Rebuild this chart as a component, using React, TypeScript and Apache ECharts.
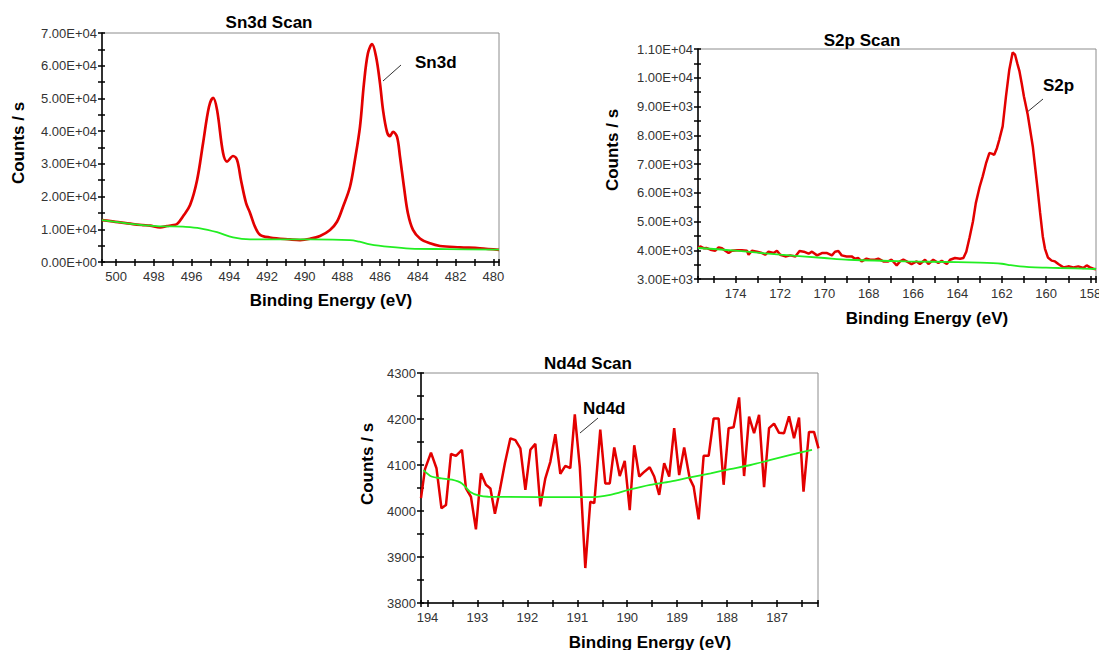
import { useEffect, useRef } from 'react';
import * as echarts from 'echarts';

const FONT = 'Arial, "Liberation Sans", Helvetica, sans-serif';
const RED = '#e30000';
const GREEN = '#22ee22';

// ---- Sn3d scan ----
const snEnergy = [500.75, 500.3, 499.8, 499.11, 498.6, 498.2, 497.67, 497.3, 497.04, 496.77, 496.46, 496.08, 495.71, 495.39, 495.08, 494.86, 494.65, 494.33, 494.12, 493.8, 493.59, 493.38, 493.11, 492.9, 492.64, 492.37, 491.84, 490.78, 490.25, 489.72, 489.19, 488.66, 488.29, 487.97, 487.6, 487.34, 487.07, 486.86, 486.65, 486.43, 486.22, 486.01, 485.85, 485.64, 485.48, 485.32, 485.11, 484.95, 484.74, 484.53, 484.26, 483.89, 483.36, 482.83, 481.77, 480.71, 479.7];
const snCounts = [12800, 12500, 12100, 11600, 11300, 11100, 10600, 11000, 11200, 11600, 13900, 17400, 25000, 36400, 47400, 50200, 46500, 33300, 30700, 32400, 31200, 25000, 18000, 15000, 10800, 8300, 7500, 6900, 6700, 7100, 7950, 9800, 12300, 16900, 23000, 31200, 41400, 54600, 63800, 66600, 62800, 54600, 46500, 39800, 38500, 39800, 38300, 32200, 23000, 14900, 9800, 7200, 5700, 4900, 4500, 4200, 3700];
const snBgEnergy = [500.75, 499.11, 498.2, 497.67, 497.04, 496.46, 495.55, 494.65, 493.8, 492.9, 489.72, 487.6, 487.1, 486.54, 485.48, 484.42, 482.5, 479.7];
const snBgCounts = [12800, 11600, 11100, 10900, 10900, 10800, 10300, 9100, 7500, 6900, 6900, 6700, 6200, 5400, 4600, 4100, 3950, 3800];

// ---- S2p scan ----
const s2Energy = [175.7, 175.6, 175.45, 175.3, 175.14, 174.92, 174.77, 174.62, 174.47, 174.32, 174.17, 173.94, 173.72, 173.49, 173.42, 173.27, 173.04, 172.82, 172.67, 172.52, 172.29, 172.14, 171.99, 171.76, 171.54, 171.31, 171.12, 170.93, 170.71, 170.56, 170.33, 170.11, 169.88, 169.66, 169.52, 169.37, 169.22, 169.0, 168.77, 168.62, 168.47, 168.32, 168.1, 167.94, 167.72, 167.57, 167.34, 167.12, 166.97, 166.74, 166.59, 166.44, 166.29, 166.07, 165.84, 165.69, 165.46, 165.31, 165.09, 164.86, 164.71, 164.48, 164.33, 164.11, 163.88, 163.73, 163.6, 163.45, 163.3, 163.17, 163.0, 162.86, 162.7, 162.56, 162.45, 162.34, 162.22, 162.11, 161.96, 161.81, 161.66, 161.51, 161.4, 161.3, 161.2, 161.1, 161.0, 160.83, 160.6, 160.38, 160.27, 160.15, 160.05, 159.92, 159.75, 159.6, 159.45, 159.22, 159.0, 158.77, 158.55, 158.32, 158.17, 158.02, 157.87, 157.75];
const s2Counts = [4078, 4134, 4072, 4078, 4019, 3984, 4100, 4072, 3984, 3904, 3984, 3996, 3996, 3984, 3845, 3984, 3950, 3904, 3845, 3950, 3904, 3984, 3845, 3786, 3822, 3786, 3973, 3950, 3880, 3950, 3822, 3904, 3904, 3822, 3950, 3973, 3822, 3786, 3786, 3706, 3730, 3612, 3706, 3670, 3670, 3706, 3612, 3612, 3670, 3474, 3612, 3670, 3612, 3520, 3612, 3520, 3670, 3520, 3670, 3554, 3635, 3520, 3670, 3730, 3706, 3730, 3950, 4450, 5000, 5640, 6200, 6570, 7050, 7380, 7360, 7320, 7550, 7850, 8310, 9350, 10280, 10880, 10800, 10500, 10220, 9800, 9350, 8720, 7610, 6100, 5300, 4480, 4050, 3750, 3640, 3612, 3520, 3405, 3440, 3405, 3440, 3382, 3474, 3405, 3359, 3340];
const s2BgEnergy = [175.7, 174, 172, 170, 168.9, 166.3, 164, 163, 162, 161.6, 161, 160.5, 160, 159.4, 158, 157.75];
const s2BgCounts = [4078, 3985, 3845, 3730, 3670, 3612, 3590, 3570, 3530, 3480, 3430, 3405, 3395, 3382, 3355, 3347];

// ---- Nd4d scan ----
const ndEnergy = [194.13, 194.05, 193.93, 193.82, 193.72, 193.63, 193.53, 193.43, 193.31, 193.23, 193.13, 193.03, 192.93, 192.83, 192.74, 192.65, 192.55, 192.45, 192.34, 192.24, 192.14, 192.04, 191.94, 191.84, 191.74, 191.64, 191.54, 191.44, 191.34, 191.24, 191.14, 191.05, 190.95, 190.84, 190.74, 190.66, 190.54, 190.44, 190.35, 190.26, 190.15, 190.05, 189.95, 189.86, 189.76, 189.65, 189.55, 189.46, 189.36, 189.26, 189.16, 189.06, 188.96, 188.86, 188.75, 188.67, 188.57, 188.47, 188.37, 188.27, 188.17, 188.07, 187.97, 187.87, 187.76, 187.66, 187.56, 187.46, 187.36, 187.26, 187.16, 187.06, 186.96, 186.86, 186.76, 186.66, 186.56, 186.47, 186.36, 186.26, 186.17];
const ndCounts = [4028, 4091, 4127, 4093, 4006, 4013, 4124, 4120, 4133, 4049, 4031, 3960, 4082, 4057, 4049, 3994, 4046, 4104, 4158, 4154, 4136, 4046, 4133, 4146, 4010, 4071, 4107, 4167, 4081, 4098, 4093, 4210, 4096, 3876, 4020, 4017, 4177, 4060, 4060, 4138, 4076, 4109, 4002, 4143, 4075, 4086, 4095, 4075, 4035, 4104, 4075, 4180, 4078, 4138, 4071, 4053, 3982, 4120, 4120, 4201, 4201, 4057, 4180, 4182, 4247, 4076, 4205, 4169, 4209, 4052, 4180, 4190, 4170, 4169, 4206, 4158, 4203, 4042, 4172, 4172, 4136];
const ndBgEnergy = [194.08, 193.92, 193.72, 193.51, 193.31, 193.15, 192.98, 192.78, 190.74, 190.34, 189.94, 189.54, 189.14, 188.74, 188.33, 187.94, 187.53, 187.13, 186.73, 186.3];
const ndBgCounts = [4089, 4075, 4071, 4068, 4060, 4042, 4034, 4031, 4030, 4035, 4047, 4057, 4064, 4073, 4082, 4091, 4100, 4111, 4122, 4133];

const zip = (xs: number[], ys: number[]) => xs.map((x, i) => [x, ys[i]]);

function sci(v: number): string {
  if (v === 0) return '0.00E+00';
  const e = Math.floor(Math.log10(Math.abs(v)) + 1e-9);
  const m = v / Math.pow(10, e);
  return m.toFixed(2) + 'E' + (e < 0 ? '-' : '+') + String(Math.abs(e)).padStart(2, '0');
}

const AX = { color: '#000', width: 1.5 };

function makeGrid(left: number, top: number, width: number, height: number) {
  return {
    left, top, width, height,
    show: true,
    borderColor: '#8c8c8c',
    borderWidth: 1,
    backgroundColor: 'transparent',
    containLabel: false,
    outerBoundsMode: 'none',
  };
}

function makeX(gridIndex: number, min: number, max: number, splitNumber: number) {
  const common = {
    type: 'value', gridIndex, min, max, inverse: true, splitNumber, position: 'bottom',
    splitLine: { show: false }, minorSplitLine: { show: false },
  };
  return [
    {
      ...common,
      axisLine: { show: true, onZero: false, lineStyle: AX },
      axisTick: { show: true, inside: false, length: 4, lineStyle: AX },
      minorTick: { show: true, splitNumber: 2, length: 4, lineStyle: AX },
      axisLabel: { show: true, showMinLabel: false, showMaxLabel: false, color: '#333', fontSize: 13, fontFamily: FONT, margin: 8 },
    },
    {
      ...common,
      axisLine: { show: false, onZero: false },
      axisTick: { show: true, inside: true, length: 3, lineStyle: AX },
      minorTick: { show: true, splitNumber: 2, length: 3, lineStyle: AX },
      axisLabel: { show: false },
    },
  ];
}

function makeY(gridIndex: number, min: number, max: number, interval: number, formatter: (v: number) => string) {
  const common = {
    type: 'value', gridIndex, min, max, interval, position: 'left',
    splitLine: { show: false }, minorSplitLine: { show: false },
  };
  return [
    {
      ...common,
      axisLine: { show: true, onZero: false, lineStyle: AX },
      axisTick: { show: true, inside: false, length: 4, lineStyle: AX },
      minorTick: { show: true, splitNumber: 2, length: 4, lineStyle: AX },
      axisLabel: { show: true, color: '#333', fontSize: 13, fontFamily: FONT, margin: 5, formatter },
    },
    {
      ...common,
      axisLine: { show: false, onZero: false },
      axisTick: { show: true, inside: true, length: 3, lineStyle: AX },
      minorTick: { show: true, splitNumber: 2, length: 3, lineStyle: AX },
      axisLabel: { show: false },
    },
  ];
}

function line(xi: number, yi: number, data: number[][], color: string, width: number, smooth: number | boolean, z: number) {
  return {
    type: 'line', xAxisIndex: xi, yAxisIndex: yi, data,
    symbol: 'none', showSymbol: false, smooth,
    lineStyle: { color, width }, z, silent: true,
  };
}

function txt(x: number, y: number, text: string, align = 'center', rotate = false) {
  return {
    type: 'text', x, y, rotation: rotate ? Math.PI / 2 : 0,
    style: {
      text, fill: '#000', font: `bold 17px ${FONT}`,
      align, textAlign: align, verticalAlign: 'middle', textVerticalAlign: 'middle',
    },
  };
}

function seg(x1: number, y1: number, x2: number, y2: number) {
  return { type: 'line', shape: { x1, y1, x2, y2 }, style: { stroke: '#333', lineWidth: 1 } };
}

export default function App() {
  const ref = useRef<HTMLDivElement>(null);
  useEffect(() => {
    if (!ref.current) return;
    const chart = echarts.init(ref.current, undefined, { renderer: 'svg' });
    const option = {
      animation: false,
      backgroundColor: '#fff',
      grid: [
        makeGrid(102, 33, 397, 229),
        makeGrid(698, 49, 398, 230),
        makeGrid(421, 373, 397, 230),
      ],
      xAxis: [
        ...makeX(0, 479.7, 500.75, 10),
        ...makeX(1, 157.75, 175.7, 9),
        ...makeX(2, 186.18, 194.13, 8),
      ],
      yAxis: [
        ...makeY(0, 0, 70000, 10000, sci),
        ...makeY(1, 3000, 11000, 1000, sci),
        ...makeY(2, 3800, 4300, 100, (v: number) => String(v)),
      ],
      series: [
        line(0, 0, zip(snEnergy, snCounts), RED, 2.7, 0.35, 2),
        line(0, 0, zip(snBgEnergy, snBgCounts), GREEN, 1.8, 0.35, 3),
        line(2, 2, zip(s2Energy, s2Counts), RED, 2.5, false, 2),
        line(2, 2, zip(s2BgEnergy, s2BgCounts), GREEN, 1.8, 0.3, 3),
        line(4, 4, zip(ndEnergy, ndCounts), RED, 2.5, false, 2),
        line(4, 4, zip(ndBgEnergy, ndBgCounts), GREEN, 1.8, 0.3, 3),
      ],
      graphic: [
        txt(269, 22, 'Sn3d Scan'),
        txt(331, 300, 'Binding Energy (eV)'),
        txt(18, 143, 'Counts / s', 'center', true),
        txt(415, 62, 'Sn3d', 'left'),
        seg(401, 65, 383, 81),

        txt(862, 40, 'S2p Scan'),
        txt(927, 318, 'Binding Energy (eV)'),
        txt(612, 150, 'Counts / s', 'center', true),
        txt(1043, 85, 'S2p', 'left'),
        seg(1043, 99, 1026, 113),

        txt(588, 363, 'Nd4d Scan'),
        txt(650, 642, 'Binding Energy (eV)'),
        txt(367, 464, 'Counts / s', 'center', true),
        txt(583, 408, 'Nd4d', 'left'),
        seg(580, 433, 598, 418),
      ],
    };
    chart.setOption(option as any);
    return () => chart.dispose();
  }, []);
  return (
    <div
      ref={ref}
      style={{ position: 'fixed', left: 0, top: 0, width: 1099, height: 650, background: '#fff' }}
    />
  );
}
